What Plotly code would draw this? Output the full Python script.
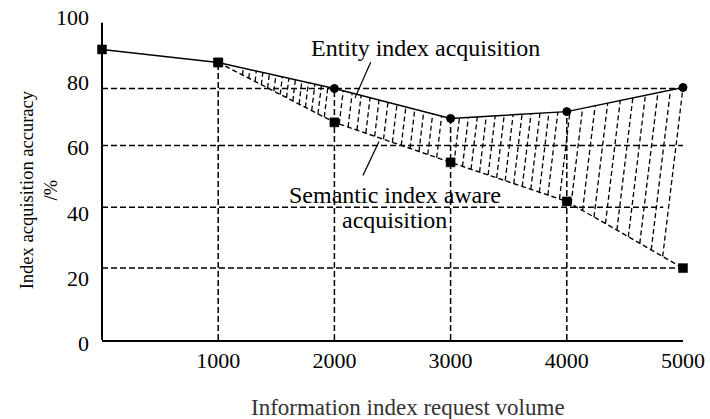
import numpy as np
import plotly.graph_objects as go

# ---------------- data ----------------
request_volume = [0, 1000, 2000, 3000, 4000, 5000]
entity_accuracy = [89.3, 85.3, 77.3, 68.1, 70.2, 77.6]
semantic_accuracy = [89.3, 85.3, 66.9, 54.6, 42.6, 22.1]
x_tick_values = [1000, 2000, 3000, 4000, 5000]
x_tick_labels = ["1000", "2000", "3000", "4000", "5000"]
y_tick_values = [0, 20, 40, 60, 80, 100]
y_tick_labels = ["0", "20", "40", "60", "80", "100"]
guide_levels = [77.3, 59.8, 40.8, 22.1]
guide_ends = [5000, 5000, 4830, 5000]

# ---------------- layout constants ----------------
FONT = "Liberation Serif"
W, H = 710, 419
M_L, M_R, M_T, M_B = 102, 27, 14, 79
plot_w = W - M_L - M_R
plot_h = H - M_T - M_B
X_MAX, Y_MAX = 5000, 100
ux = X_MAX / plot_w   # data units per px (x)
uy = Y_MAX / plot_h   # data units per px (y)

fig = go.Figure()

# dashed guide lines (horizontal levels and vertical drops)
gx, gy = [], []
for lvl, end in zip(guide_levels, guide_ends):
    gx += [0, end, None]
    gy += [lvl, lvl, None]
for xv, yv in zip(request_volume[1:5], entity_accuracy[1:5]):
    gx += [xv, xv, None]
    gy += [0, yv, None]
fig.add_trace(go.Scatter(x=gx, y=gy, mode="lines",
                         line=dict(color="black", width=1.5, dash="6px,3px"),
                         hoverinfo="skip", showlegend=False))

# hatching between the two curves
xs = np.array(request_volume, float)
E = np.array(entity_accuracy, float)
S = np.array(semantic_accuracy, float)
hatch_steps = [56, 77, 77, 108]
slant = 0.12
hx, hy = [], []
for i, step in enumerate(hatch_steps):
    x0, x1 = xs[i + 1], xs[i + 2]
    offset = 0 if i == len(hatch_steps) - 1 else 1
    tops = np.arange(x1 - step * offset, x0, -step)
    for xt in tops:
        yt = float(np.interp(xt, xs, E))
        xb = xt
        for _ in range(10):
            yb = float(np.interp(xb, xs, S))
            xb = xt - slant * (yt - yb) / uy * ux
        yb = float(np.interp(xb, xs, S))
        if yt - yb < 2:
            continue
        hx += [xb, xt, None]
        hy += [yb, yt, None]
fig.add_trace(go.Scatter(x=hx, y=hy, mode="lines",
                         line=dict(color="black", width=1.3, dash="5px,3px"),
                         hoverinfo="skip", showlegend=False))

# semantic series (dashed)
fig.add_trace(go.Scatter(x=request_volume[1:], y=semantic_accuracy[1:],
                         mode="lines+markers", name="Semantic index aware acquisition",
                         line=dict(color="black", width=1.4, dash="5px,3px"),
                         marker=dict(symbol="square", size=9, color="black",
                                     line=dict(color="black", width=0.5)),
                         cliponaxis=False, showlegend=False))
# entity series (solid line)
fig.add_trace(go.Scatter(x=request_volume, y=entity_accuracy,
                         mode="lines", name="Entity index acquisition",
                         line=dict(color="black", width=1.4),
                         cliponaxis=False, showlegend=False))
# entity markers: shared start squares, then circles
fig.add_trace(go.Scatter(x=request_volume[:2], y=entity_accuracy[:2],
                         mode="markers", showlegend=False,
                         marker=dict(symbol="square", size=9, color="black",
                                     line=dict(color="black", width=0.5)),
                         cliponaxis=False))
fig.add_trace(go.Scatter(x=request_volume[2:], y=entity_accuracy[2:],
                         mode="markers", showlegend=False,
                         marker=dict(symbol="circle", size=8, color="black",
                                     line=dict(color="black", width=1)),
                         cliponaxis=False))

shapes = [
    dict(type="line", xref="paper", yref="y", x0=0, x1=0, y0=0, y1=97.5,
         line=dict(color="black", width=2)),
    dict(type="line", xref="x", yref="y", x0=2177, y0=74.4, x1=2312, y1=85.4,
         line=dict(color="black", width=1.2)),
    dict(type="line", xref="x", yref="y", x0=2246, y0=50.6, x1=2384, y1=61.0,
         line=dict(color="black", width=1.2)),
]

annotations = [
    dict(x=2788, y=89.9, xref="x", yref="y", text="Entity index acquisition",
         showarrow=False, font=dict(family=FONT, size=24, color="black"),
         xanchor="center", yanchor="middle"),
    dict(x=2520, y=44.5, xref="x", yref="y", text="Semantic index aware",
         showarrow=False, font=dict(family=FONT, size=24, color="black"),
         xanchor="center", yanchor="middle"),
    dict(x=2520, y=36.8, xref="x", yref="y", text="acquisition",
         showarrow=False, font=dict(family=FONT, size=24, color="black"),
         xanchor="center", yanchor="middle"),
    dict(x=0.527, y=-0.206, xref="paper", yref="paper", text="Information index request volume",
         showarrow=False, font=dict(family=FONT, size=23, color="#333333"),
         xanchor="center", yanchor="middle"),
    dict(x=-0.108, y=0.46, xref="paper", yref="paper", text="Index acquisition accuracy<br>/%",
         showarrow=False, textangle=-90, font=dict(family=FONT, size=18.5, color="black"),
         xanchor="center", yanchor="middle"),
]

fig.update_layout(
    width=W, height=H,
    margin=dict(l=M_L, r=M_R, t=M_T, b=M_B),
    paper_bgcolor="white", plot_bgcolor="white",
    font=dict(family=FONT, color="black"),
    hovermode=False,
    shapes=shapes, annotations=annotations,
    xaxis=dict(range=[0, X_MAX], showline=True, linecolor="black", linewidth=1.5,
               showgrid=False, zeroline=False, ticks="", automargin=False,
               tickvals=x_tick_values, ticktext=x_tick_labels,
               tickfont=dict(family=FONT, size=22, color="black"),
               ticklabelstandoff=0, ticklabeloverflow="allow"),
    yaxis=dict(range=[0, Y_MAX + 0.2], showline=False, showgrid=False, zeroline=False,
               ticks="", automargin=False, tickvals=y_tick_values, ticktext=y_tick_labels,
               tickfont=dict(family=FONT, size=22, color="black"),
               ticklabelstandoff=12, ticklabelshift=3, ticklabeloverflow="allow"),
)

fig.write_html("out.html",
               config={"displayModeBar": False},
               post_script="document.body.style.margin='0px';document.body.style.overflow='hidden';")
